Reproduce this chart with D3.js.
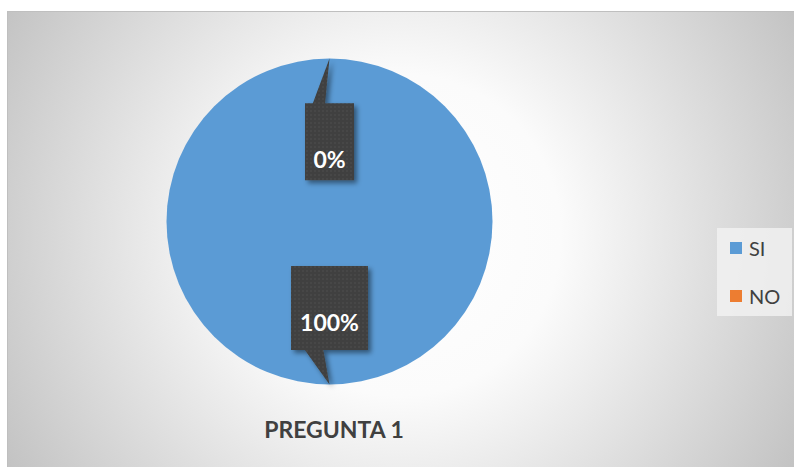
<!DOCTYPE html>
<html>
<head>
<meta charset="utf-8">
<script src="https://cdn.jsdelivr.net/npm/d3@7"></script>
<style>
  body { margin: 0; background: #ffffff; }
  svg { display: block; font-family: Lato, "Open Sans", sans-serif; }
</style>
</head>
<body>
<div id="chart"></div>
<script>
// Chart data
const categories = ["SI", "NO"];
const values = [100, 0];
const labels = ["100%", "0%"];
const colors = ["#5b9bd5", "#ed7d31"];
const title = "PREGUNTA 1";

const W = 794, H = 467;
const svg = d3.select("#chart").append("svg")
    .attr("width", W)
    .attr("height", H);

const defs = svg.append("defs");

// Radial background like the office chart area
const bg = defs.append("radialGradient")
    .attr("id", "bgGrad")
    .attr("gradientUnits", "userSpaceOnUse")
    .attr("cx", 400).attr("cy", 235).attr("r", 460);
bg.append("stop").attr("offset", "0%").attr("stop-color", "#ffffff");
bg.append("stop").attr("offset", "35%").attr("stop-color", "#fbfbfb");
bg.append("stop").attr("offset", "100%").attr("stop-color", "#c2c2c2");

// Dotted fill for callout boxes
const pat = defs.append("pattern")
    .attr("id", "dots")
    .attr("patternUnits", "userSpaceOnUse")
    .attr("width", 4).attr("height", 4);
pat.append("rect").attr("width", 4).attr("height", 4).attr("fill", "#3f3f3f");
pat.append("rect").attr("x", 1).attr("y", 1).attr("width", 1).attr("height", 1).attr("fill", "#5e5e5e");

const shadow = defs.append("filter").attr("id", "shadow")
    .attr("x", "-30%").attr("y", "-30%").attr("width", "160%").attr("height", "160%");
shadow.append("feDropShadow")
    .attr("dx", 3).attr("dy", 3).attr("stdDeviation", 2.5)
    .attr("flood-color", "#000").attr("flood-opacity", 0.45);

// Chart area
svg.append("rect")
    .attr("x", 7.5).attr("y", 11.5)
    .attr("width", W - 7).attr("height", H - 11)
    .attr("fill", "url(#bgGrad)")
    .attr("stroke", "#bfbfbf")
    .attr("stroke-width", 1);

// Pie
const cx = 329.5, cy = 221.5, r = 163;
const pie = d3.pie().sort(null).value(d => d)(values);
const arc = d3.arc().innerRadius(0).outerRadius(r);

const g = svg.append("g").attr("transform", `translate(${cx},${cy})`);
g.selectAll("path.slice")
    .data(pie)
    .enter()
    .append("path")
    .attr("class", "slice")
    .attr("d", arc)
    .attr("fill", (d, i) => colors[i]);

// Callout boxes (sizes per label, positioned along each slice's mid-angle)
const boxSize = { "100%": [77, 84], "0%": [49, 77] };
const boxRadius = { "100%": 0.53, "0%": 0.49 };

pie.forEach((d, i) => {
    const a = (d.startAngle + d.endAngle) / 2;
    const tip = [Math.sin(a) * r, -Math.cos(a) * r];
    const [bw, bh] = boxSize[labels[i]];
    const br = boxRadius[labels[i]] * r;
    const bc = [Math.sin(a) * br, -Math.cos(a) * br];
    const x0 = bc[0] - bw / 2, y0 = bc[1] - bh / 2;
    const x1 = x0 + bw, y1 = y0 + bh;

    // pointer base on the box edge facing the tip
    let pts;
    if (tip[1] < y0) {
        pts = [[x0, y0], [x0 + bw * 0.16, y0], [tip[0], tip[1]], [x0 + bw * 0.41, y0],
               [x1, y0], [x1, y1], [x0, y1]];
    } else {
        pts = [[x0, y0], [x1, y0], [x1, y1], [x0 + bw * 0.42, y1], [tip[0], tip[1]],
               [x0 + bw * 0.18, y1], [x0, y1]];
    }

    g.append("path")
        .attr("d", d3.line()(pts) + "Z")
        .attr("fill", "url(#dots)")
        .attr("filter", "url(#shadow)");

    g.append("text")
        .attr("x", bc[0])
        .attr("y", y0 + (tip[1] < y0 ? bh * 0.84 : bh * 0.77))
        .attr("text-anchor", "middle")
        .attr("fill", "#ffffff")
        .style("font-size", "23px")
        .style("font-weight", "bold")
        .text(labels[i]);
});

// Legend
const legend = svg.append("g");
legend.append("rect")
    .attr("x", 717).attr("y", 228)
    .attr("width", 75).attr("height", 88)
    .attr("fill", "#f2f2f2")
    .attr("fill-opacity", 0.8);

const ly = d3.scalePoint().domain(categories).range([248, 296]);
categories.forEach((c, i) => {
    legend.append("rect")
        .attr("x", 730).attr("y", ly(c) - 6)
        .attr("width", 12).attr("height", 12)
        .attr("fill", colors[i]);
    legend.append("text")
        .attr("x", 749).attr("y", ly(c) + 8)
        .attr("fill", "#404040")
        .style("font-size", "20px")
        .text(c);
});

// Title
svg.append("text")
    .attr("x", 334).attr("y", 438)
    .attr("text-anchor", "middle")
    .attr("fill", "#404040")
    .style("font-size", "23px")
    .style("font-weight", "bold")
    .text(title);
</script>
</body>
</html>
